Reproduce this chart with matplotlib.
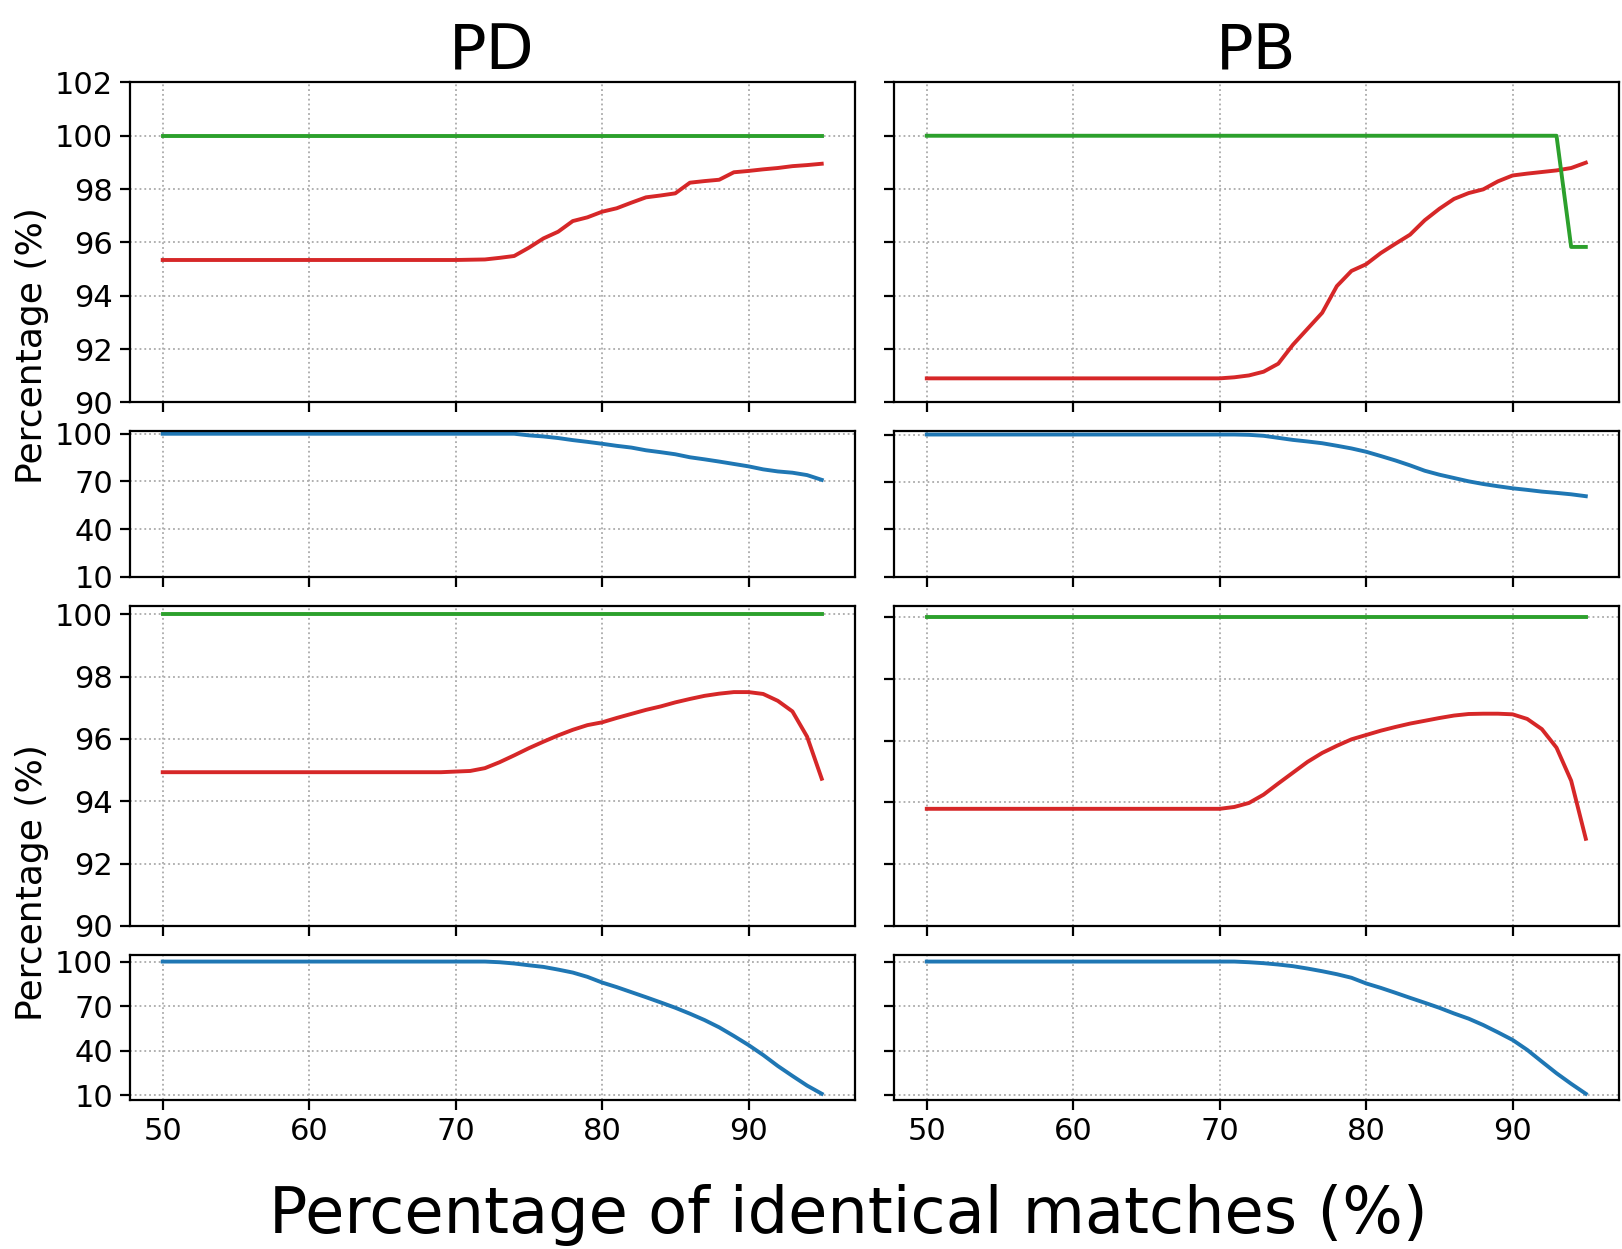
import matplotlib
matplotlib.use("Agg")
import matplotlib.pyplot as plt

# identical-match threshold (%)
x = list(range(50, 96))

# PD, upper pair
pd_green1 = [100.0] * 46
pd_red1 = [95.34, 95.34, 95.34, 95.34, 95.34, 95.34, 95.34, 95.34, 95.34, 95.34,
           95.34, 95.34, 95.34, 95.34, 95.34, 95.34, 95.34, 95.34, 95.34, 95.34,
           95.34, 95.35, 95.36, 95.42, 95.49, 95.80, 96.15, 96.40, 96.80, 96.94,
           97.15, 97.28, 97.49, 97.69, 97.76, 97.84, 98.24, 98.30, 98.35, 98.63,
           98.68, 98.74, 98.79, 98.86, 98.90, 98.95]
pd_blue1 = [100.0, 100.0, 100.0, 100.0, 100.0, 100.0, 100.0, 100.0, 100.0, 100.0,
            100.0, 100.0, 100.0, 100.0, 100.0, 100.0, 100.0, 100.0, 100.0, 100.0,
            100.0, 100.0, 100.0, 100.0, 100.0, 99.0, 98.3, 97.3, 96.0, 94.9,
            93.7, 92.4, 91.3, 89.6, 88.4, 87.1, 85.2, 83.9, 82.5, 81.0,
            79.5, 77.6, 76.3, 75.5, 74.0, 71.0]

# PD, lower pair
pd_green2 = [100.0] * 46
pd_red2 = [94.93, 94.93, 94.93, 94.93, 94.93, 94.93, 94.93, 94.93, 94.93, 94.93,
           94.93, 94.93, 94.93, 94.93, 94.93, 94.93, 94.93, 94.93, 94.93, 94.93,
           94.95, 94.97, 95.06, 95.25, 95.47, 95.70, 95.91, 96.11, 96.29, 96.44,
           96.53, 96.67, 96.80, 96.93, 97.04, 97.17, 97.28, 97.38, 97.45, 97.50,
           97.50, 97.44, 97.22, 96.88, 96.07, 94.72]
pd_blue2 = [100.0, 100.0, 100.0, 100.0, 100.0, 100.0, 100.0, 100.0, 100.0, 100.0,
            100.0, 100.0, 100.0, 100.0, 100.0, 100.0, 100.0, 100.0, 100.0, 100.0,
            100.0, 100.0, 100.0, 99.55, 98.7, 97.5, 96.4, 94.6, 92.6, 89.7,
            85.9, 82.8, 79.4, 76.0, 72.5, 68.9, 64.9, 60.6, 55.7, 49.9,
            43.8, 37.1, 29.7, 23.0, 16.5, 11.0]

# PB, upper pair
pb_green1 = [100.0, 100.0, 100.0, 100.0, 100.0, 100.0, 100.0, 100.0, 100.0, 100.0,
             100.0, 100.0, 100.0, 100.0, 100.0, 100.0, 100.0, 100.0, 100.0, 100.0,
             100.0, 100.0, 100.0, 100.0, 100.0, 100.0, 100.0, 100.0, 100.0, 100.0,
             100.0, 100.0, 100.0, 100.0, 100.0, 100.0, 100.0, 100.0, 100.0, 100.0,
             100.0, 100.0, 100.0, 100.0, 95.83, 95.83]
pb_red1 = [90.90, 90.90, 90.90, 90.90, 90.90, 90.90, 90.90, 90.90, 90.90, 90.90,
           90.90, 90.90, 90.90, 90.90, 90.90, 90.90, 90.90, 90.90, 90.90, 90.90,
           90.90, 90.94, 91.01, 91.15, 91.45, 92.16, 92.76, 93.36, 94.36, 94.93,
           95.18, 95.60, 95.95, 96.29, 96.83, 97.26, 97.63, 97.85, 97.99, 98.29,
           98.51, 98.58, 98.64, 98.70, 98.79, 98.99]
pb_blue1 = [100.0, 100.0, 100.0, 100.0, 100.0, 100.0, 100.0, 100.0, 100.0, 100.0,
            100.0, 100.0, 100.0, 100.0, 100.0, 100.0, 100.0, 100.0, 100.0, 100.0,
            100.0, 100.0, 99.8, 99.2, 97.9, 96.6, 95.6, 94.5, 92.9, 91.2,
            89.1, 86.4, 83.6, 80.5, 77.1, 74.6, 72.5, 70.4, 68.7, 67.3,
            66.0, 65.0, 63.9, 63.1, 62.2, 61.0]

# PB, lower pair
pb_green2 = [100.0] * 46
pb_red2 = [93.79, 93.79, 93.79, 93.79, 93.79, 93.79, 93.79, 93.79, 93.79, 93.79,
           93.79, 93.79, 93.79, 93.79, 93.79, 93.79, 93.79, 93.79, 93.79, 93.79,
           93.79, 93.85, 93.98, 94.25, 94.61, 94.96, 95.31, 95.60, 95.83, 96.04,
           96.18, 96.32, 96.44, 96.55, 96.64, 96.73, 96.81, 96.86, 96.87, 96.87,
           96.85, 96.70, 96.37, 95.77, 94.70, 92.82]
pb_blue2 = [100.0, 100.0, 100.0, 100.0, 100.0, 100.0, 100.0, 100.0, 100.0, 100.0,
            100.0, 100.0, 100.0, 100.0, 100.0, 100.0, 100.0, 100.0, 100.0, 100.0,
            100.0, 100.0, 99.55, 98.9, 98.0, 96.9, 95.3, 93.5, 91.5, 89.1,
            85.3, 82.3, 79.0, 75.6, 72.3, 68.9, 65.1, 61.6, 57.3, 52.4,
            47.3, 40.6, 32.7, 24.9, 17.8, 11.1]

green, red, blue = "#2ca02c", "#d62728", "#1f77b4"
lw = 2.8

fig, axes = plt.subplots(4, 2, sharex=True, figsize=(16.22, 12.49), dpi=100,
                         gridspec_kw={"height_ratios": [2.2, 1, 2.2, 1]})
fig.subplots_adjust(left=0.080, right=0.998, top=0.934, bottom=0.119,
                    hspace=0.125, wspace=0.054)

cols = [(pd_green1, pd_red1, pd_blue1, pd_green2, pd_red2, pd_blue2),
        (pb_green1, pb_red1, pb_blue1, pb_green2, pb_red2, pb_blue2)]

for c, (g1, r1, b1, g2, r2, b2) in enumerate(cols):
    a1, a2, a3, a4 = axes[:, c]
    a1.plot(x, r1, color=red, lw=lw)
    a1.plot(x, g1, color=green, lw=lw)
    a1.set_ylim(90, 102)
    a1.set_yticks([90, 92, 94, 96, 98, 100, 102])

    a2.plot(x, b1, color=blue, lw=lw)
    a2.set_ylim(bottom=10)
    a2.set_yticks([10, 40, 70, 100])

    a3.plot(x, r2, color=red, lw=lw)
    a3.plot(x, g2, color=green, lw=lw)
    a3.set_ylim(bottom=90)
    a3.set_yticks([90, 92, 94, 96, 98, 100])

    a4.plot(x, b2, color=blue, lw=lw)
    a4.set_yticks([10, 40, 70, 100])

for ax in axes.flat:
    ax.set_xticks([50, 60, 70, 80, 90])
    ax.grid(True, linestyle=":", color="#aaaaaa", linewidth=1.3)
    ax.tick_params(labelsize=22, length=7, width=1.6, pad=5)
    for s in ax.spines.values():
        s.set_linewidth(1.6)
for ax in axes[:, 1]:
    ax.tick_params(labelleft=False)

axes[0, 0].set_title("PD", fontsize=45, pad=9)
axes[0, 1].set_title("PB", fontsize=45, pad=9)

fig.text(0.020, 0.723, "Percentage (%)", rotation=90, fontsize=26,
         ha="center", va="center")
fig.text(0.020, 0.293, "Percentage (%)", rotation=90, fontsize=26,
         ha="center", va="center")
fig.text(0.523, 0.0128, "Percentage of identical matches (%)", fontsize=46,
         ha="center", va="baseline")

fig.savefig("out.png", dpi=100)
